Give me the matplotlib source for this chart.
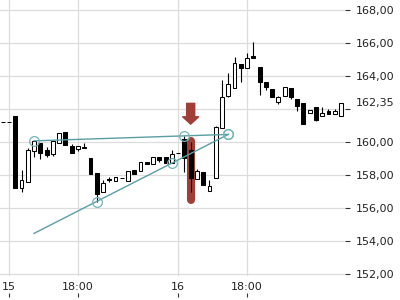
import matplotlib
matplotlib.use("Agg")
import matplotlib.pyplot as plt
from matplotlib.transforms import blended_transform_factory

# --------------------------------------------------------------------------
# Data, one candle per slot
# --------------------------------------------------------------------------
slots = list(range(-2, 53))
opens = [161.20, 161.20, 161.59, 157.20, 157.59, 159.47, 159.96, 159.52, 159.27, 159.92,
         160.59, 159.76, 159.59, 159.66, 159.07, 158.14, 156.99, 157.76, 157.64, 157.82,
         157.64, 158.30, 158.26, 158.81, 158.65, 159.11, 159.11, 158.71, 159.35, 160.18,
         159.52, 157.80, 158.20, 157.03, 157.84, 160.83, 162.79, 163.25, 164.73, 164.50,
         165.21, 164.53, 163.62, 163.19, 162.44, 162.80, 163.25, 162.60, 162.35, 161.74,
         162.10, 161.60, 161.88, 161.68, 161.59]
highs = [161.20, 161.20, 161.59, 158.30, 159.65, 160.08, 159.96, 159.71, 160.06, 160.53,
         160.59, 159.88, 159.76, 159.92, 159.07, 158.14, 157.70, 157.88, 157.90, 157.82,
         158.24, 158.30, 158.77, 158.81, 159.11, 159.11, 159.11, 159.52, 159.35, 160.40,
         160.00, 158.36, 158.20, 157.70, 160.99, 163.76, 164.20, 165.13, 164.73, 165.38,
         166.08, 164.53, 163.62, 163.19, 162.80, 163.35, 163.25, 162.60, 162.35, 161.94,
         162.10, 162.10, 162.00, 162.00, 162.35]
lows = [161.20, 161.20, 157.25, 156.99, 157.59, 159.11, 159.01, 159.11, 159.15, 159.92,
        159.82, 159.35, 159.47, 159.66, 158.10, 156.40, 156.99, 157.58, 157.64, 157.82,
        157.64, 158.06, 158.26, 158.69, 158.65, 158.81, 158.71, 158.71, 159.35, 158.20,
        157.00, 157.80, 157.40, 157.03, 157.84, 160.83, 162.75, 163.25, 163.65, 164.50,
        165.07, 162.85, 163.15, 162.75, 162.30, 162.80, 162.60, 161.88, 161.13, 161.74,
        161.28, 161.60, 161.72, 161.68, 161.59]
closes = [161.20, 161.20, 157.25, 157.74, 159.52, 160.06, 159.32, 159.21, 160.06, 160.53,
          159.82, 159.35, 159.76, 159.70, 158.10, 156.89, 157.53, 157.70, 157.90, 157.82,
          158.24, 158.06, 158.77, 158.69, 159.11, 158.91, 158.71, 159.31, 159.35, 159.06,
          157.82, 158.28, 157.40, 157.33, 160.93, 162.75, 163.50, 164.77, 164.50, 165.07,
          165.11, 163.65, 163.35, 162.75, 162.71, 163.35, 162.71, 162.18, 161.13, 161.94,
          161.33, 161.78, 161.72, 161.88, 162.35]

tick_slots = [-1, 10, 26, 37]
tick_labels = ["15", "18:00", "16", "18:00"]
price_ticks = [152, 154, 156, 158, 160, 162, 164, 166, 168]

# triangle: resistance on top, rising support below, touch points circled
upper_x = [3, 34]
upper_y = [160.08, 160.47]
upper_touch_x = [3, 27, 34]
upper_touch_y = [160.08, 160.38, 160.47]
lower_x = [3, 34]
lower_y = [154.48, 160.47]
lower_touch_x = [13, 25, 34]
lower_touch_y = [156.40, 158.71, 160.47]

signal_slot = 28
signal_band = [156.51, 160.06]

# --------------------------------------------------------------------------
# Style
# --------------------------------------------------------------------------
INK = "#222222"
GRID = "#dcdcdc"
TEAL = "#5a9ea5"
TEAL_LIGHT = "#74b3b9"
RED = "#9f3f37"
BODY_W = 0.62

fig = plt.figure(figsize=(4, 3), dpi=100)
ax = fig.add_axes([0, 0.08, 0.8625, 0.92])
ax.set_xlim(-2.44, 52.64)
ax.set_ylim(151.90, 168.605)
for s in ax.spines.values():
    s.set_visible(False)

ax.set_axisbelow(True)
ax.grid(True, color=GRID, linewidth=0.9)

# price axis on the right, 162 label replaced by the last price
ax.yaxis.tick_right()
ax.set_yticks(price_ticks)
ax.set_yticklabels(["" if p == 162 else f"{p:.2f}".replace(".", ",") for p in price_ticks])
ax.tick_params(axis="y", length=3.5, width=0.8, color="#333333", pad=4,
               labelsize=8, labelcolor=INK)
ax.text(1.032, closes[-1], f"{closes[-1]:.2f}".replace(".", ","),
        transform=blended_transform_factory(ax.transAxes, ax.transData),
        ha="left", va="center", fontsize=8, color=INK)

# time axis: labels sit above little tick marks
ax.set_xticks(tick_slots)
ax.set_xticklabels(tick_labels)
ax.tick_params(axis="x", length=0, pad=4.5, labelsize=8, labelcolor=INK)
ax.vlines(tick_slots, -0.076, -0.0616, transform=ax.get_xaxis_transform(),
          colors="#333333", linewidth=0.8, clip_on=False)

# highlight behind the signal candle
ax.plot([signal_slot, signal_slot], signal_band, color=RED, linewidth=5.8,
        solid_capstyle="round", zorder=1)
ax.annotate("", xy=(signal_slot, signal_band[1] + 1.03),
            xytext=(signal_slot, signal_band[1] + 2.29),
            arrowprops=dict(arrowstyle="simple,head_length=0.53,head_width=1.15,tail_width=0.58",
                            color=RED, shrinkA=0, shrinkB=0, mutation_scale=10),
            zorder=5)

# candles
up = [c >= o for o, c in zip(opens, closes)]
ax.vlines(slots, lows, highs, colors="black", linewidth=0.8, zorder=2)
ax.bar(slots, [abs(c - o) for o, c in zip(opens, closes)],
       bottom=[min(o, c) for o, c in zip(opens, closes)], width=BODY_W,
       color=["white" if u else "black" for u in up], edgecolor="black",
       linewidth=0.75, zorder=3)

# trend lines
ax.plot(upper_x, upper_y, color=TEAL, linewidth=1.0, zorder=4)
ax.plot(lower_x, lower_y, color=TEAL, linewidth=1.0, zorder=4)
ax.plot(upper_touch_x, upper_touch_y, "o", markersize=7, markerfacecolor="none",
        markeredgecolor=TEAL_LIGHT, markeredgewidth=0.9, zorder=4)
ax.plot(lower_touch_x, lower_touch_y, "o", markersize=7, markerfacecolor="none",
        markeredgecolor=TEAL_LIGHT, markeredgewidth=0.9, zorder=4)

fig.savefig("out.png", dpi=100)
